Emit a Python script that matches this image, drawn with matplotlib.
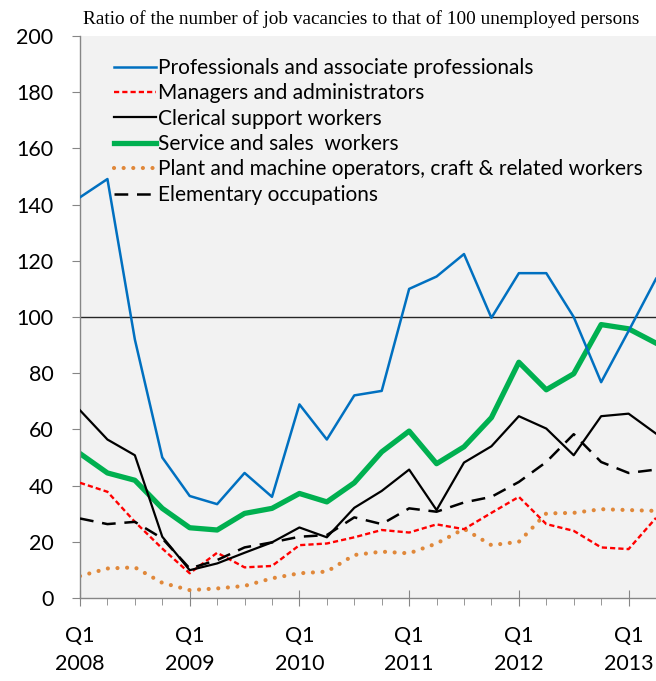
import matplotlib.pyplot as plt
from matplotlib.ticker import MultipleLocator, FixedLocator

# quarters Q1 2008 .. Q2 2013
quarters = list(range(22))
year_ticks = [0, 4, 8, 12, 16, 20]
year_labels = ['Q1\n2008', 'Q1\n2009', 'Q1\n2010', 'Q1\n2011', 'Q1\n2012', 'Q1\n2013']

professionals = [142.6, 149.1, 92, 50.0, 36.3, 33.4, 44.5, 36.0, 68.9, 56.4, 72.1,
                 73.7, 110.0, 114.4, 122.4, 99.7, 115.6, 115.6, 100, 76.8, 95, 113.6]
managers = [41.0, 37.8, 27.1, 17.6, 8.8, 16.1, 10.9, 11.4, 18.8, 19.4, 21.6,
            24.2, 23.3, 26.2, 24.5, 30.3, 36.0, 26.3, 23.9, 18.0, 17.4, 28.5]
clerical = [66.8, 56.4, 50.8, 21.8, 9.9, 12.3, 16.1, 19.8, 25.1, 21.6, 32.1,
            38.1, 45.7, 31.3, 48.2, 54.0, 64.7, 60.3, 50.8, 64.7, 65.6, 58.5]
service = [51.4, 44.5, 41.9, 31.9, 25.0, 24.2, 30.1, 31.9, 37.2, 34.2, 41.0,
           52.0, 59.4, 47.8, 53.8, 64.2, 83.9, 74.1, 79.8, 97.3, 95.8, 90.7]
plant = [7.8, 10.5, 10.9, 5.4, 2.8, 3.4, 4.3, 7.0, 8.8, 9.4, 15.3,
         16.5, 15.9, 19.4, 24.6, 18.8, 20.0, 30.1, 30.3, 31.6, 31.3, 31.0]
elementary = [28.3, 26.3, 27.1, 21.2, 10.5, 13.5, 18.0, 19.8, 21.8, 22.4, 28.7,
              26.3, 31.9, 30.7, 34.0, 36.0, 41.3, 48.4, 58.3, 48.4, 44.5, 45.7]

sans = ['Lato', 'DejaVu Sans']

fig = plt.figure(figsize=(6.56, 6.81), dpi=100)
ax = fig.add_axes([80 / 656, 1 - 598 / 681, 576 / 656, 562 / 681])
ax.set_facecolor('#f2f2f2')

ax.axhline(100, color='#262626', lw=1.0, zorder=1)

ax.plot(quarters, professionals, color='#0070c0', lw=1.8,
        label='Professionals and associate professionals', zorder=3)
ax.plot(quarters, managers, color='#ff0000', lw=1.7, dashes=(2.2, 1.3),
        label='Managers and administrators', zorder=3)
ax.plot(quarters, clerical, color='black', lw=1.6,
        label='Clerical support workers', zorder=3)
ax.plot(quarters, service, color='#00b050', lw=3.8,
        label='Service and sales  workers', zorder=2)
ax.plot(quarters, plant, color='#e0883a', lw=3.0, dashes=(0.01, 2.3),
        dash_capstyle='round', label='Plant and machine operators, craft & related workers', zorder=2)
ax.plot(quarters, elementary, color='black', lw=1.8, dashes=(5.5, 3.5),
        label='Elementary occupations', zorder=3)

ax.set_xlim(0, 21)
ax.set_ylim(0, 200)
ax.yaxis.set_major_locator(MultipleLocator(20))
ax.xaxis.set_major_locator(FixedLocator(year_ticks))
ax.xaxis.set_minor_locator(FixedLocator(quarters))
ax.set_xticklabels(year_labels, family=sans, fontsize=15.5, linespacing=1.5)
for lab in ax.get_yticklabels():
    lab.set_family(sans)
    lab.set_fontsize(15.5)

for s in ['top', 'right']:
    ax.spines[s].set_visible(False)
for s in ['left', 'bottom']:
    ax.spines[s].set_color('#868686')
    ax.spines[s].set_linewidth(1.0)
ax.tick_params(axis='y', direction='out', length=6, color='#868686', pad=13)
ax.tick_params(axis='x', which='major', direction='inout', length=12, color='#868686', pad=14)
ax.tick_params(axis='x', which='minor', direction='out', length=5, color='#868686')

ax.legend(loc='upper left', bbox_to_anchor=(0.045, 0.976), frameon=False,
          prop={'family': sans, 'size': 15}, handlelength=2.0, handletextpad=0.12,
          labelspacing=0.26, borderaxespad=0)

fig.text(83 / 656, 1 - 19 / 681, 'Ratio of the number of job vacancies to that of 100 unemployed persons',
         family='Liberation Serif', fontsize=13.9, va='center', ha='left')

fig.savefig('out.png', dpi=100)
